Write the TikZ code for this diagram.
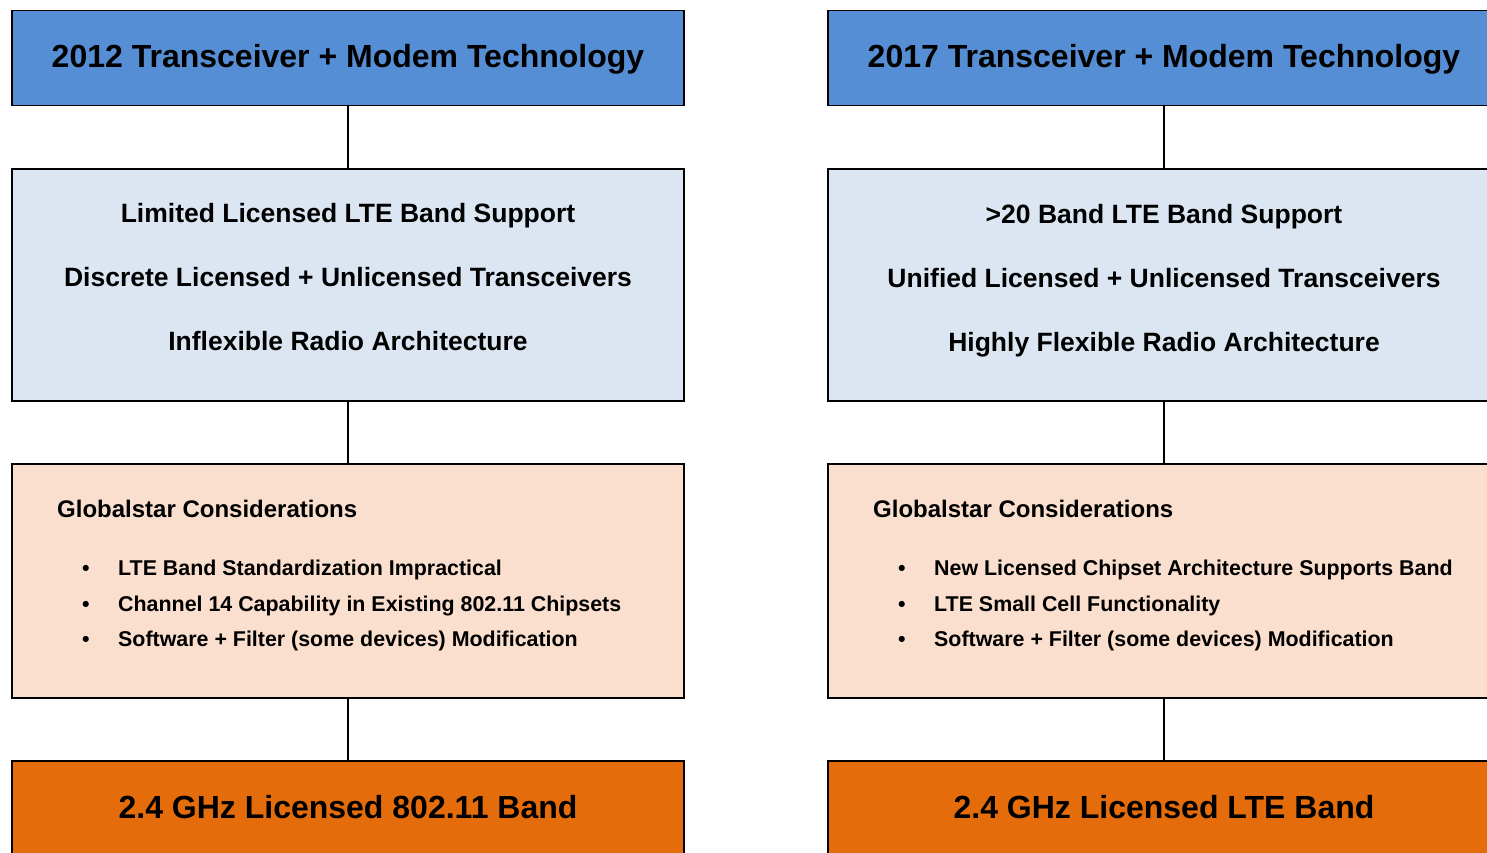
\documentclass[tikz,border=0pt]{standalone}
\usepackage{fontspec}
\setmainfont{Liberation Sans}
\definecolor{hdrblue}{HTML}{558ED5}
\definecolor{paleblue}{HTML}{DCE6F2}
\definecolor{peach}{HTML}{FADFCE}
\definecolor{bandorange}{HTML}{E46C0A}
\begin{document}
\begin{tikzpicture}[x=1pt,y=-1pt,
  box/.style={draw=black,line width=1.5pt,minimum width=672pt,inner sep=0pt,anchor=north},
  hdr/.style={box,fill=hdrblue,minimum height=95pt},
  feat/.style={box,fill=paleblue,minimum height=232pt},
  cons/.style={box,fill=peach,minimum height=234pt},
  band/.style={box,fill=bandorange,minimum height=95pt},
  bigtxt/.style={font=\fontsize{32}{38}\selectfont\bfseries,inner sep=0pt,anchor=base},
  midtxt/.style={font=\fontsize{26.5}{31}\selectfont\bfseries,inner sep=0pt,anchor=base},
  headtxt/.style={font=\fontsize{24}{28}\selectfont\bfseries,inner sep=0pt,anchor=base west},
  itemtxt/.style={font=\fontsize{21.4}{25}\selectfont\bfseries,inner sep=0pt,anchor=base west},
  link/.style={draw=black,line width=1.5pt}]
\useasboundingbox (0,0) rectangle (1487,852);
\clip (0,0) rectangle (1487,852);
\fill[white] (0,0) rectangle (1487,852);
% left column
\node[hdr] (lt) at (348,9.5) {};
\node[feat] (lf) at (348,168) {};
\node[cons] (lc) at (348,463) {};
\node[band] (lb) at (348,760) {};
\draw[link] (lt.south) -- (lf.north);
\draw[link] (lf.south) -- (lc.north);
\draw[link] (lc.south) -- (lb.north);
\node[bigtxt] (ltt) at (348,67) {2012 Transceiver + Modem Technology};
\node[midtxt] (lf1) at (348,222.3) {Limited Licensed LTE Band Support};
\node[midtxt] (lf2) at (348,286.3) {Discrete Licensed + Unlicensed Transceivers};
\node[midtxt] (lf3) at (348,350.3) {Inflexible Radio Architecture};
\node[headtxt] (lch) at (57,517.6) {Globalstar Considerations};
\node[itemtxt] (lcb1) at (82,575.7) {•};
\node[itemtxt] (lci1) at (118,575.7) {LTE Band Standardization Impractical};
\node[itemtxt] (lcb2) at (82,611.2) {•};
\node[itemtxt] (lci2) at (118,611.2) {Channel 14 Capability in Existing 802.11 Chipsets};
\node[itemtxt] (lcb3) at (82,646.2) {•};
\node[itemtxt] (lci3) at (118,646.2) {Software + Filter (some devices) Modification};
\node[bigtxt] (lbt) at (348,818) {2.4 GHz Licensed 802.11 Band};
% right column
\node[hdr] (rt) at (1164,9.5) {};
\node[feat] (rf) at (1164,168) {};
\node[cons] (rc) at (1164,463) {};
\node[band] (rb) at (1164,760) {};
\draw[link] (rt.south) -- (rf.north);
\draw[link] (rf.south) -- (rc.north);
\draw[link] (rc.south) -- (rb.north);
\node[bigtxt] (rtt) at (1164,67) {2017 Transceiver + Modem Technology};
\node[midtxt] (rf1) at (1164,223.3) {>20 Band LTE Band Support};
\node[midtxt] (rf2) at (1164,287.3) {Unified Licensed + Unlicensed Transceivers};
\node[midtxt] (rf3) at (1164,351.3) {Highly Flexible Radio Architecture};
\node[headtxt] (rch) at (873,517.6) {Globalstar Considerations};
\node[itemtxt] (rcb1) at (898,575.7) {•};
\node[itemtxt] (rci1) at (934,575.7) {New Licensed Chipset Architecture Supports Band};
\node[itemtxt] (rcb2) at (898,611.2) {•};
\node[itemtxt] (rci2) at (934,611.2) {LTE Small Cell Functionality};
\node[itemtxt] (rcb3) at (898,646.2) {•};
\node[itemtxt] (rci3) at (934,646.2) {Software + Filter (some devices) Modification};
\node[bigtxt] (rbt) at (1164,818) {2.4 GHz Licensed LTE Band};
\end{tikzpicture}
\end{document}
